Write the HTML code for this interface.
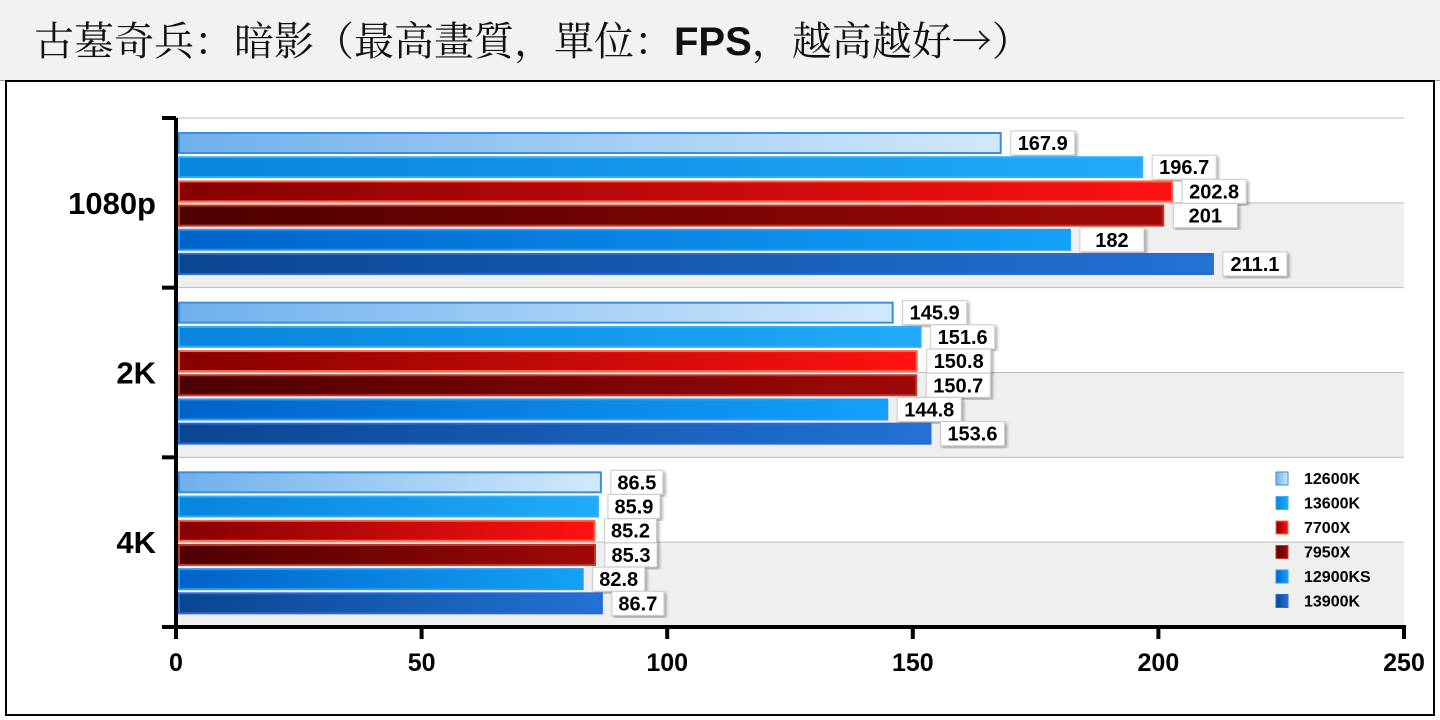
<!DOCTYPE html>
<html><head><meta charset="utf-8"><style>
body{margin:0;width:1440px;height:720px;background:#fff;overflow:hidden;font-family:"Liberation Sans","Noto Sans CJK TC",sans-serif}
#title{position:absolute;left:0;top:0;width:1440px;height:80px;background:#f2f2f2;border-bottom:1px solid #999}
#title span{position:absolute;left:34px;top:10px;font-size:40px;color:#111;white-space:nowrap;font-family:"Noto Serif CJK SC","Liberation Serif",serif}
#frame{position:absolute;left:5px;top:80px;width:1426px;height:632px;border:2px solid #000}
</style></head><body>
<div id="title"><span>古墓奇兵：暗影（最高畫質，單位：<b style="font-family:'Liberation Sans',sans-serif">FPS</b>，越高越好→）</span></div>
<div id="frame"></div>
<svg id="chart" width="1440" height="720" style="position:absolute;left:0;top:0">
<defs>
<linearGradient id="g0"><stop offset="0" stop-color="#6fb0ec"/><stop offset="1" stop-color="#d2e9fb"/></linearGradient>
<linearGradient id="g1"><stop offset="0" stop-color="#0784dc"/><stop offset="1" stop-color="#22aaf8"/></linearGradient>
<linearGradient id="g2"><stop offset="0" stop-color="#850000"/><stop offset="1" stop-color="#ff1212"/></linearGradient>
<linearGradient id="g3"><stop offset="0" stop-color="#4c0000"/><stop offset="1" stop-color="#a00808"/></linearGradient>
<linearGradient id="g4"><stop offset="0" stop-color="#0062c8"/><stop offset="1" stop-color="#12a2f8"/></linearGradient>
<linearGradient id="g5"><stop offset="0" stop-color="#0a4590"/><stop offset="1" stop-color="#2272d4"/></linearGradient>
<filter id="sh"><feDropShadow dx="2" dy="2" stdDeviation="1.5" flood-color="#000" flood-opacity="0.35"/></filter>
</defs>
<g id="bands"></g><g id="bars"></g><g id="axes"></g><g id="legend"></g>
</svg>
<script>
const categories=["1080p","2K","4K"];
const seriesNames=["12600K","13600K","7700X","7950X","12900KS","13900K"];
const s12600K=[167.9,145.9,86.5];
const s13600K=[196.7,151.6,85.9];
const s7700X=[202.8,150.8,85.2];
const s7950X=[201,150.7,85.3];
const s12900KS=[182,144.8,82.8];
const s13900K=[211.1,153.6,86.7];
const xTicks=[0,50,100,150,200,250];
const series=[s12600K,s13600K,s7700X,s7950X,s12900KS,s13900K];
const borders=["#3a8ee0","#30b0ff","#ff6a4a","#c03a2a","#2a9af8","#2a6ad8"];
const NS="http://www.w3.org/2000/svg";
const x0=176,x1=1404,yTop=118,yBot=627;
const xS=v=>x0+(v-xTicks[0])/(xTicks[xTicks.length-1]-xTicks[0])*(x1-x0);
const gH=(yBot-yTop)/categories.length;
function mk(t,a,p){const e=document.createElementNS(NS,t);for(const k in a)e.setAttribute(k,a[k]);p.appendChild(e);return e;}
const bands=document.getElementById('bands'),bars=document.getElementById('bars'),axes=document.getElementById('axes'),leg=document.getElementById('legend');
categories.forEach((c,i)=>{
 const y=yTop+i*gH;
 const b=mk('rect',{x:x0,y:y+gH/2,width:x1-x0,height:gH/2,fill:'#efefef'},bands);
 
 
 [y,y+gH/2].forEach(yy=>{const l=mk('line',{x1:x0,x2:x1,y1:yy,y2:yy,stroke:'#bbb','stroke-width':1},bands);
 
 });
 const t=mk('text',{x:156,y:y+gH/2+11,'text-anchor':'end','font-size':31,'font-weight':'bold'},axes);
 t.textContent=c;
 
 
 series.forEach((s,j)=>{
  const by=y+15+j*24.2;
  const r=mk('rect',{x:x0+3,y:by,width:xS(s[i])-x0-3,height:20,fill:'url(#g'+j+')',stroke:borders[j],'stroke-width':2},bars);
  
  
  const lx=xS(s[i])+10;
  const bx=mk('rect',{x:lx,y:by-2,width:s[i]>=100?64:52,height:24,fill:'#fff',stroke:'#ccc',filter:'url(#sh)'},bars);
  
  
  const vt=mk('text',{x:lx+(s[i]>=100?32:26),y:by+17,'text-anchor':'middle','font-size':20,'font-weight':'bold'},bars);
  vt.textContent=String(s[i]);
  
  
 });
});
const ya=mk('line',{x1:x0,x2:x0,y1:yTop,y2:yBot+4,stroke:'#000','stroke-width':4},axes);


for(let i=0;i<=categories.length;i++){const tk=mk('line',{x1:x0-14,x2:x0,y1:yTop+i*gH,y2:yTop+i*gH,stroke:'#000','stroke-width':4},axes);

}
const xa=mk('line',{x1:x0-2,x2:x1+2,y1:yBot,y2:yBot,stroke:'#000','stroke-width':4},axes);


xTicks.forEach(v=>{const tk=mk('line',{x1:xS(v),x2:xS(v),y1:yBot,y2:yBot+12,stroke:'#000','stroke-width':4},axes);


const t=mk('text',{x:xS(v),y:671,'text-anchor':'middle','font-size':25,'font-weight':'bold'},axes);t.textContent=v;

});
seriesNames.forEach((n,j)=>{const y=478+j*24.5;
const r=mk('rect',{x:1276,y:y-6,width:12,height:13,fill:'url(#g'+j+')',stroke:borders[j]},leg);


const t=mk('text',{x:1304,y:y+6,'font-size':16,'font-weight':'bold'},leg);t.textContent=n;

});
</script>
</body></html>
